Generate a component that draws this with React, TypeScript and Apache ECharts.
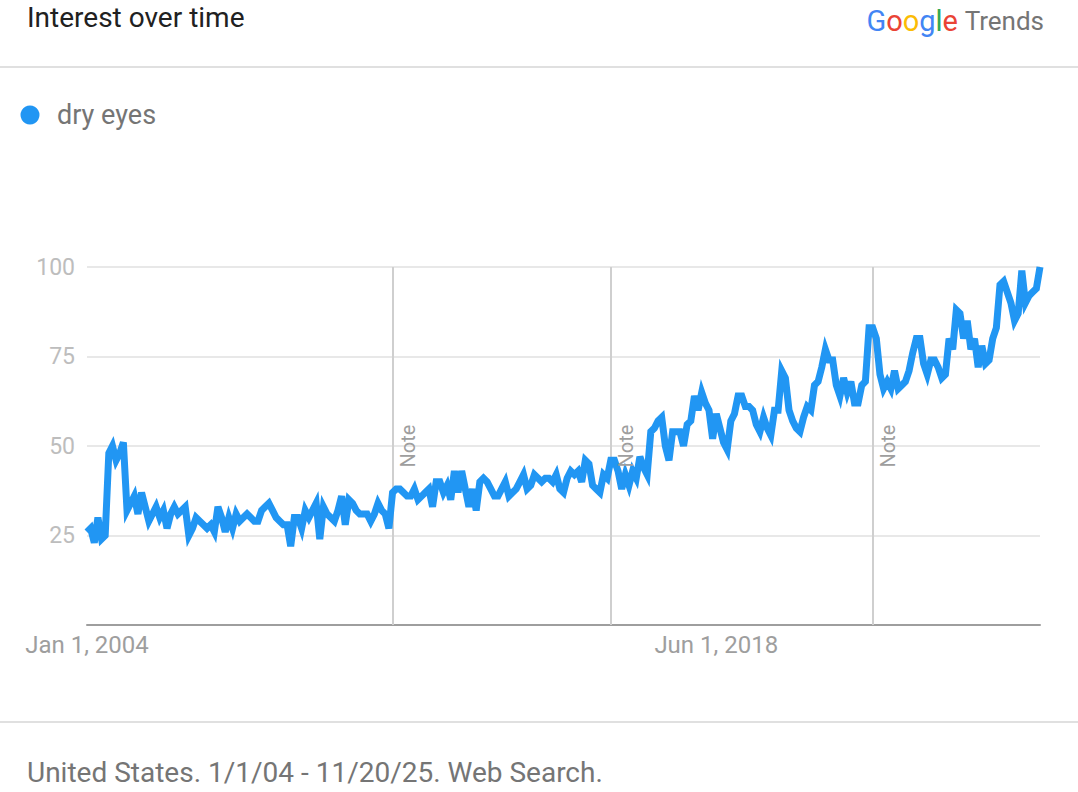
import React, { useEffect, useRef } from "react";
import * as echarts from "echarts";

const seriesName = "dry eyes";
const startYear = 2004;
const monthCount = 263; // Jan 2004 .. Nov 2025

const interest = [
  26, 27, 23, 30, 24, 25, 48, 50, 46, 48, 51,
  32, 34, 36, 31, 37, 33, 29, 31, 33, 30,
  32, 27, 31, 33, 31, 32, 33, 25, 27, 30,
  29, 28, 27, 28, 26, 33, 30, 26, 30, 27,
  31, 29, 30, 31, 30, 29, 29, 32, 33, 34,
  32, 30, 29, 28, 28, 22, 30, 30, 27, 32,
  30, 32, 34, 24, 33, 31, 30, 29, 32, 36,
  28, 35, 34, 32, 31, 31, 31, 29, 31, 34,
  32, 31, 27, 37, 38, 38, 37, 36, 36, 38,
  35, 36, 37, 38, 33, 40, 40, 37, 39, 35,
  43, 37, 43, 38, 33, 38, 32, 40, 41, 40,
  38, 36, 36, 38, 40, 36, 37, 38, 40, 42,
  38, 39, 42, 41, 40, 41, 41, 40, 42, 38,
  37, 41, 43, 42, 43, 40, 46, 45, 39, 38,
  37, 42, 41, 46, 46, 43, 38, 42, 39, 43,
  41, 47, 44, 42, 54, 55, 57, 58, 50, 46,
  54, 54, 54, 50, 56, 57, 64, 60, 65, 62,
  60, 52, 59, 55, 51, 49, 57, 59, 64, 64,
  61, 61, 60, 56, 54, 58, 55, 53, 60, 60,
  71, 69, 60, 57, 55, 54, 58, 61, 60, 67,
  68, 72, 77, 74, 74, 67, 64, 69, 65, 68,
  62, 62, 67, 68, 83, 83, 80, 70, 66, 68,
  66, 71, 66, 67, 68, 71, 76, 80, 80, 73,
  70, 74, 74, 72, 69, 70, 80, 77, 88, 87,
  80, 85, 77, 80, 72, 78, 73, 74, 80, 83,
  95, 96, 93, 90, 85, 87, 99, 90, 92, 93, 94, 100,
];

const xTickMonths = ["2004-01", "2018-06"];
const xTickLabels = ["Jan 1, 2004", "Jun 1, 2018"];
const noteMonths = ["2011-01", "2016-01", "2022-01"];
const yTicks = [25, 50, 75, 100];

const months: string[] = [];
for (let i = 0; i < monthCount; i++) {
  const y = startYear + Math.floor(i / 12);
  const m = (i % 12) + 1;
  months.push(`${y}-${m < 10 ? "0" + m : m}`);
}

const FONT = "Roboto, 'Noto Sans', sans-serif";
const BLUE = "#2196f3";

export default function App() {
  const ref = useRef<HTMLDivElement>(null);

  useEffect(() => {
    if (!ref.current) return;
    const chart = echarts.init(ref.current, null, { renderer: "svg" });
    chart.setOption({
      animation: false,
      backgroundColor: "#ffffff",
      textStyle: { fontFamily: FONT },
      grid: { left: 87, right: 38, top: 267, bottom: 167, containLabel: false },
      xAxis: {
        type: "category",
        data: months,
        boundaryGap: false,
        axisTick: { show: false },
        axisLine: { show: true, lineStyle: { color: "#9e9e9e", width: 2 } },
        splitLine: { show: false },
        axisLabel: {
          interval: (idx: number, val: string) => xTickMonths.indexOf(val) >= 0,
          formatter: (val: string) => {
            const k = xTickMonths.indexOf(val);
            return k >= 0 ? xTickLabels[k] : "";
          },
          color: "#9e9e9e",
          fontSize: 24,
          fontFamily: FONT,
          margin: 8,
        },
      },
      yAxis: {
        type: "value",
        min: 0,
        max: 100,
        interval: 25,
        axisLine: { show: false },
        axisTick: { show: false },
        splitLine: { show: true, lineStyle: { color: "#e0e0e0", width: 1.5 } },
        axisLabel: {
          formatter: (v: number) => (yTicks.indexOf(v) >= 0 ? String(v) : ""),
          color: "#bdbdbd",
          fontSize: 23,
          fontFamily: FONT,
          margin: 12,
        },
      },
      series: [
        {
          name: seriesName,
          type: "line",
          data: interest,
          showSymbol: false,
          symbol: "none",
          lineStyle: { color: BLUE, width: 7, join: "miter" },
          itemStyle: { color: BLUE },
          z: 3,
          markLine: {
            silent: true,
            symbol: ["none", "none"],
            label: { show: false },
            lineStyle: { color: "#cfcfcf", width: 2, type: "solid" },
            data: noteMonths.map((m) => ({ xAxis: m })),
            z: 1,
          },
        },
      ],
    });

    const noteTexts = noteMonths.map((m) => {
      const px = chart.convertToPixel({ xAxisIndex: 0 }, m) as number;
      return {
        type: "text",
        x: px + 15,
        y: 446,
        rotation: Math.PI / 2,
        style: {
          text: "Note",
          fill: "#9e9e9e",
          font: `20px ${FONT}`,
          align: "center",
          verticalAlign: "middle",
        },
        z: 10,
      };
    });

    chart.setOption({
      graphic: [
        {
          type: "text",
          left: 27,
          top: 3,
          style: { text: "Interest over time", fill: "#212121", font: `28px ${FONT}` },
        },
        {
          type: "text",
          x: 958,
          y: 21,
          style: {
            text: "{a|G}{b|o}{c|o}{a|g}{d|l}{b|e}",
            align: "right",
            verticalAlign: "middle",
            rich: {
              a: { fill: "#4285f4", fontSize: 29, fontFamily: FONT },
              b: { fill: "#ea4335", fontSize: 29, fontFamily: FONT },
              c: { fill: "#fbbc05", fontSize: 29, fontFamily: FONT },
              d: { fill: "#34a853", fontSize: 29, fontFamily: FONT },
            },
          },
        },
        {
          type: "text",
          x: 1044,
          y: 21,
          style: {
            text: "Trends",
            fill: "#757575",
            font: `26px ${FONT}`,
            align: "right",
            verticalAlign: "middle",
          },
        },
        {
          type: "line",
          shape: { x1: 0, y1: 67, x2: 1078, y2: 67 },
          style: { stroke: "#e0e0e0", lineWidth: 2 },
        },
        {
          type: "circle",
          shape: { cx: 30, cy: 115, r: 9.5 },
          style: { fill: BLUE },
        },
        {
          type: "text",
          x: 57,
          y: 115,
          style: {
            text: seriesName,
            fill: "#757575",
            font: `27px ${FONT}`,
            verticalAlign: "middle",
          },
        },
        {
          type: "line",
          shape: { x1: 0, y1: 722, x2: 1078, y2: 722 },
          style: { stroke: "#e0e0e0", lineWidth: 2 },
        },
        {
          type: "text",
          x: 27,
          y: 772,
          style: {
            text: "United States. 1/1/04 - 11/20/25. Web Search.",
            fill: "#757575",
            font: `28px ${FONT}`,
            verticalAlign: "middle",
          },
        },
        ...noteTexts,
      ],
    });

    return () => chart.dispose();
  }, []);

  return (
    <div
      ref={ref}
      style={{ position: "absolute", left: 0, top: 0, width: 1078, height: 792, background: "#fff" }}
    />
  );
}
